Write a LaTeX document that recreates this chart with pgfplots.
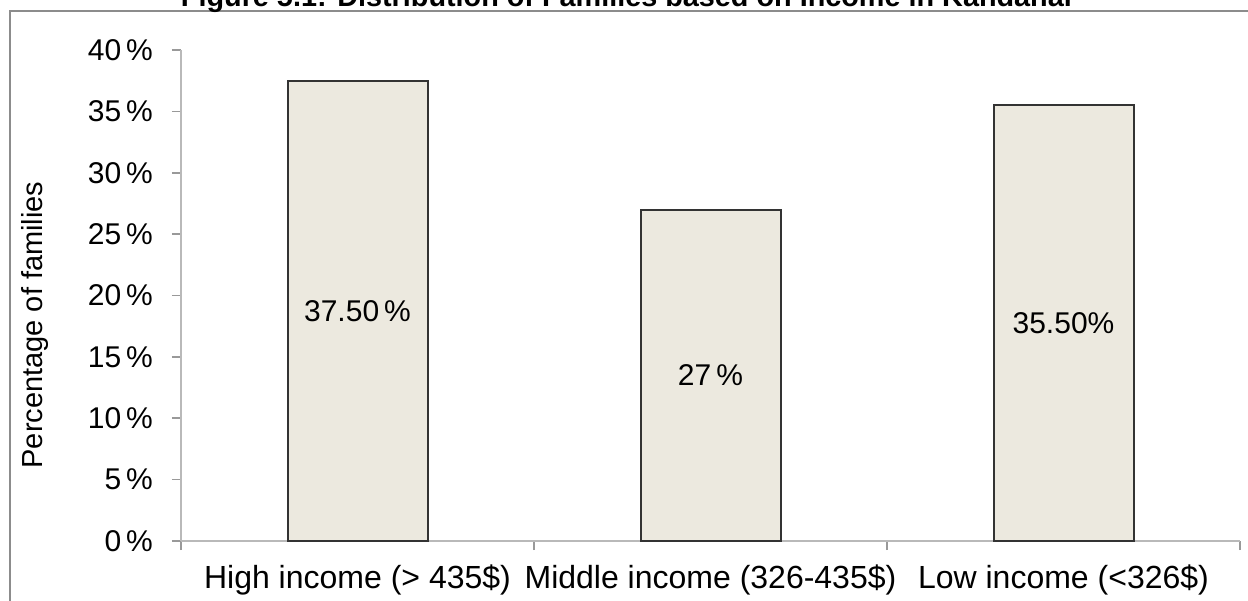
\documentclass[border=0pt]{standalone}
\usepackage{pgfplots}
\pgfplotsset{compat=1.18}
\usepackage{pgfplotstable}
\usepackage{fontspec}
\setmainfont{Liberation Sans}
\definecolor{barfill}{HTML}{ECE9DF}
\definecolor{framegray}{HTML}{8C8C8C}

\pgfplotstableread{
x y label
0 37.5 {37.50\,\%}
1 27 {27\,\%}
2 35.5 {35.50\%}
}\datatable

\begin{document}
\begin{tikzpicture}
\begin{axis}[
  scale only axis,
  width=529.5pt, height=245.5pt,
  at={(90.5pt,29.5pt)}, anchor=south west,
  xmin=-0.5, xmax=2.5,
  ymin=0, ymax=40,
  enlargelimits=false,
  axis lines*=left,
  axis line style={draw=gray!55, line width=1.2pt, -},
  tick style={draw=gray!80, line width=0.8pt},
  tick align=outside,
  major tick length=4.5pt,
  ytick={0,5,...,40},
  yticklabels={0\,\%,5\,\%,10\,\%,15\,\%,20\,\%,25\,\%,30\,\%,35\,\%,40\,\%},
  yticklabel style={font=\fontsize{15}{18}\selectfont, xshift=-6pt},
  xtick={-0.5,0.5,1.5,2.5},
  x tick label as interval,
  xticklabels={High income (> 435\$),Middle income (326-435\$),Low income (<326\$)},
  xticklabel style={font=\fontsize{16}{19}\selectfont, yshift=-4pt},
  ylabel={Percentage of families},
  ylabel style={font=\fontsize{14.5}{17}\selectfont, at={(axis description cs:-0.1379,0.44)}, rotate=0, anchor=center},
  clip=false,
]
\addplot[ybar, bar width=70pt, fill=barfill, draw=black!80, line width=1pt]
  table[x=x, y=y] {\datatable};
\addplot[draw=none, nodes near coords, point meta=explicit symbolic,
  every node near coord/.append style={anchor=center, font=\fontsize{15}{18}\selectfont}]
  table[x=x, y expr=\thisrow{y}/2, meta=label] {\datatable};
\end{axis}
\draw[framegray, line width=1pt] (5pt,-10pt) -- (5pt,294.5pt) -- (640pt,294.5pt);
\node[anchor=base, font=\bfseries\fontsize{14.4}{17}\selectfont] at (314pt,296.5pt)
  {Figure 5.1: Distribution of Families based on Income in Kandahar};
\pgfresetboundingbox
\path[use as bounding box] (0pt,0pt) rectangle (624pt,300pt);
\end{tikzpicture}
\end{document}
